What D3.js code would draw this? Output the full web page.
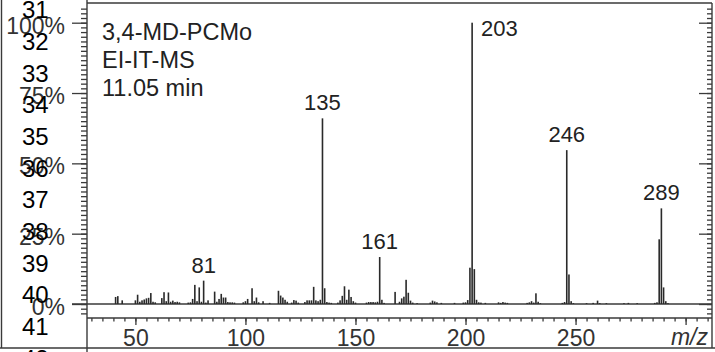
<!DOCTYPE html>
<html>
<head>
<meta charset="utf-8">
<script src="https://cdn.jsdelivr.net/npm/d3@7"></script>
<style>
  body { margin: 0; background: #fff; }
  svg { display: block; font-family: "Liberation Sans", Arial, sans-serif; }
</style>
</head>
<body>
<svg id="ms"></svg>
<script>
// spectrum data (m/z and relative intensity in %)
var mz = [41, 42, 44, 50, 51, 52, 53, 54, 55, 56, 57, 58, 59, 62, 63, 64, 65, 66, 67, 68, 69, 70,
  74, 75, 76, 77, 78, 79, 80, 81, 82, 83, 86, 87, 88, 89, 90, 91, 92, 93, 94, 95, 99, 100, 101,
  103, 104, 105, 106, 108, 111, 115, 116, 117, 118, 119, 121, 122, 123, 124, 127, 128, 129, 130,
  131, 132, 133, 134, 135, 136, 137, 138, 139, 142, 143, 144, 145, 146, 147, 148, 149, 150, 155,
  156, 157, 158, 159, 160, 161, 162, 163, 168, 170, 171, 172, 173, 174, 175, 176, 178, 184, 185,
  186, 187, 189, 195, 199, 200, 201, 202, 203, 204, 205, 206, 207, 209, 215, 216, 217, 218, 219,
  228, 229, 230, 231, 232, 233, 234, 244, 245, 246, 247, 248, 249, 255, 258, 260, 261, 264, 272,
  274, 278, 286, 287, 288, 289, 290, 291, 292];
var intensity = [2.5, 2.8, 1.3, 1.3, 3.3, 0.8, 1.3, 1.6, 2.0, 2.2, 3.9, 0.8, 0.6, 2.1, 4.2, 1.0, 4.1, 0.8, 1.2, 0.7, 0.8, 0.6,
  0.5, 0.6, 1.8, 6.8, 1.0, 5.9, 0.8, 8.3, 0.5, 1.3, 4.4, 0.8, 1.8, 3.6, 2.3, 2.3, 0.7, 0.6, 0.6, 0.5, 0.6, 1.0, 1.8,
  5.6, 1.0, 2.3, 0.6, 1.0, 0.4, 4.7, 3.0, 2.3, 1.5, 0.8, 0.5, 1.4, 1.2, 0.5, 0.7, 1.3, 1.3, 1.3,
  6.1, 1.3, 1.0, 1.5, 66, 5.6, 0.7, 0.5, 0.4, 0.5, 1.3, 2.9, 6.3, 1.5, 5.1, 2.5, 1.0, 0.5, 0.5,
  0.7, 0.7, 0.7, 0.6, 0.8, 16.7, 1.5, 0.4, 4.3, 0.8, 2.0, 2.6, 8.6, 4.0, 1.2, 0.5, 0.3, 0.5, 1.2,
  0.9, 0.6, 0.4, 0.4, 0.5, 0.6, 1.4, 12.9, 100, 12.4, 1.5, 0.6, 0.5, 0.4, 0.6, 0.4, 0.7, 0.5, 0.4,
  0.4, 0.6, 1.0, 0.5, 3.8, 0.8, 0.3, 0.4, 0.7, 54.7, 10.5, 1.0, 0.3, 0.3, 0.4, 1.2, 0.3, 0.3, 0.3,
  0.4, 0.3, 0.4, 0.6, 23, 34, 5.9, 1.0, 0.3];

var labelledPeaks = [81, 135, 161, 203, 246, 289];
var infoLines = ['3,4-MD-PCMo', 'EI-IT-MS', '11.05 min'];

var xMajor = [50, 100, 150, 200, 250, 300];
var xLabels = [50, 100, 150, 200, 250];
var yMajor = [0, 25, 50, 75, 100];
var yLabels = ['0%', '25%', '50%', '75%', '100%'];
var lineNumbers = [31, 32, 33, 34, 35, 36, 37, 38, 39, 40, 41, 42];

var W = 715, H = 352;
var plot = {left: 87, right: 712, top: 3, base: 304, axis: 318, bottom: 348};
var ink = '#3a3a3a';

var svg = d3.select('#ms').attr('width', W).attr('height', H);
svg.append('rect').attr('width', W).attr('height', H).attr('fill', '#fff');

var x = d3.scaleLinear().domain([28, 312]).range([plot.left, plot.right]);
var y = d3.scaleLinear().domain([0, 100]).range([plot.base, 22.7]);

// frame lines
var frame = svg.append('g').attr('stroke', ink).attr('stroke-width', 1.4);
frame.append('line').attr('x1', 1.5).attr('x2', 1.5).attr('y1', 0).attr('y2', plot.bottom);
frame.append('line').attr('x1', 0).attr('x2', W).attr('y1', plot.bottom).attr('y2', plot.bottom);
frame.append('line').attr('x1', plot.left).attr('x2', plot.left).attr('y1', 0).attr('y2', H);
frame.append('line').attr('x1', plot.left).attr('x2', plot.right).attr('y1', plot.top).attr('y2', plot.top);
frame.append('line').attr('x1', plot.right).attr('x2', plot.right).attr('y1', plot.top).attr('y2', plot.bottom);
frame.append('line').attr('x1', 72).attr('x2', plot.right).attr('y1', plot.base).attr('y2', plot.base);
frame.append('line').attr('x1', plot.left).attr('x2', plot.right).attr('y1', plot.axis).attr('y2', plot.axis);

// y axis ticks, left and mirrored on the right
var yMinor = d3.range(-8, 65).map(function(i) { return i * 25 / 15; })
  .filter(function(v) { return y(v) > plot.top + 1 && y(v) < plot.axis - 2; });

function styleAxis(g) {
  g.select('.domain').remove();
  g.selectAll('line').attr('stroke', ink).attr('stroke-width', 1.3);
}

svg.append('g').attr('transform', 'translate(' + plot.left + ',0)')
  .call(d3.axisLeft(y).tickValues(yMinor).tickSize(6).tickFormat(''))
  .call(styleAxis);
svg.append('g').attr('transform', 'translate(' + plot.left + ',0)')
  .call(d3.axisLeft(y).tickValues(yMajor).tickSize(15).tickPadding(7)
    .tickFormat(function(d, i) { return yLabels[i]; }))
  .call(styleAxis)
  .selectAll('text').attr('font-size', 23).attr('fill', '#333')
  .attr('font-family', '"Liberation Sans", Arial, sans-serif').attr('dy', '0.45em');

svg.append('g').attr('transform', 'translate(' + plot.right + ',0)')
  .call(d3.axisLeft(y).tickValues(yMinor).tickSize(5).tickFormat(''))
  .call(styleAxis);
svg.append('g').attr('transform', 'translate(' + plot.right + ',0)')
  .call(d3.axisLeft(y).tickValues(yMajor).tickSize(13).tickFormat(''))
  .call(styleAxis);

// x axis
var xMinor = d3.range(30, 311, 5);
svg.append('g').attr('transform', 'translate(0,' + plot.axis + ')')
  .call(d3.axisBottom(x).tickValues(xMinor).tickSize(3.5).tickFormat(''))
  .call(styleAxis);
svg.append('g').attr('transform', 'translate(0,' + plot.axis + ')')
  .call(d3.axisBottom(x).tickValues(xMajor).tickSize(7).tickPadding(4)
    .tickFormat(function(d) { return xLabels.indexOf(d) >= 0 ? d : ''; }))
  .call(styleAxis)
  .selectAll('text').attr('font-size', 23).attr('fill', '#333')
  .attr('font-family', '"Liberation Sans", Arial, sans-serif').attr('dy', '0.72em');

svg.append('text').attr('x', 708).attr('y', 345).attr('text-anchor', 'end')
  .attr('font-size', 23).attr('font-style', 'italic').attr('fill', '#333').text('m/z');

// spectrum bars
svg.append('g').selectAll('rect')
  .data(mz)
  .enter().append('rect')
  .attr('x', function(d) { return x(d) - 0.8; })
  .attr('width', 1.6)
  .attr('y', function(d, i) { return y(intensity[i]); })
  .attr('height', function(d, i) { return plot.base - y(intensity[i]); })
  .attr('fill', '#2a2a2a');

// peak labels
svg.append('g').selectAll('text')
  .data(labelledPeaks)
  .enter().append('text')
  .attr('x', function(d) { return d === 203 ? x(d) + 9 : x(d); })
  .attr('y', function(d) {
    var v = intensity[mz.indexOf(d)];
    return d === 203 ? y(v) + 13 : y(v) - 8;
  })
  .attr('text-anchor', function(d) { return d === 203 ? 'start' : 'middle'; })
  .attr('font-size', 22).attr('fill', '#222')
  .text(function(d) { return d; });

// sample info
svg.append('g').selectAll('text')
  .data(infoLines)
  .enter().append('text')
  .attr('x', 102)
  .attr('y', function(d, i) { return 40 + i * 28; })
  .attr('font-size', 23.5).attr('fill', '#222')
  .text(function(d) { return d; });

// line numbers of the page, drawn over the y labels
svg.append('g').selectAll('text')
  .data(lineNumbers)
  .enter().append('text')
  .attr('x', 22)
  .attr('y', function(d) { return 18.1 + (d - 31) * 31.7; })
  .attr('font-size', 24).attr('fill', '#000')
  .text(function(d) { return d; });
</script>
</body>
</html>
